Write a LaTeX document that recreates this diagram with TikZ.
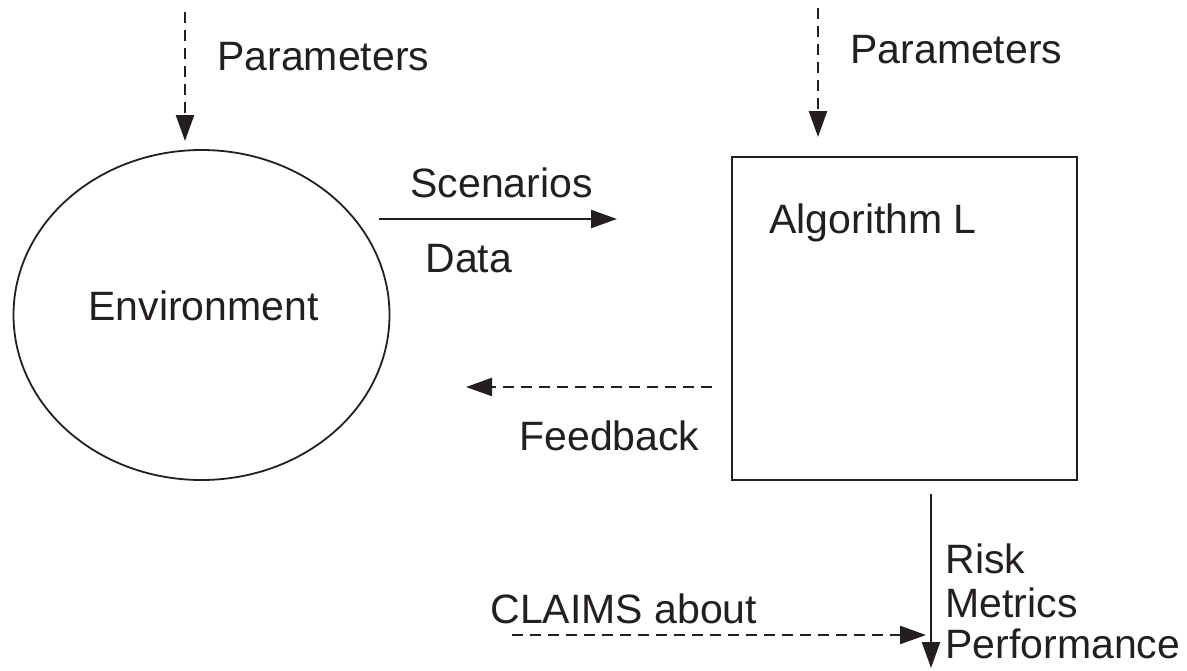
\documentclass[tikz,border=0pt]{standalone}
\usepackage{fontspec}
\setmainfont{Liberation Sans}
\usetikzlibrary{arrows.meta,shapes.geometric}
\definecolor{ink}{HTML}{231F20}
\begin{document}
\begin{tikzpicture}[x=0.5pt,y=-0.5pt,
  ink/.style={draw=ink,line width=1.2pt},
  txt/.style={anchor=base west,inner sep=0pt,font=\fontsize{20.5}{24}\selectfont,text=ink},
  solidarrow/.style={ink,-{Triangle[length=13pt,width=9pt]}},
  dasharrow/.style={ink,dash pattern=on 5.5pt off 3.5pt,-{Triangle[length=13pt,width=9pt]}}]
\useasboundingbox (0,0) rectangle (1187,670);
% shapes
\node[draw=ink,line width=0.9pt,ellipse,minimum width=188pt,minimum height=165pt,inner sep=0pt] (env) at (201.5,315) {};
\node[draw=ink,line width=1.3pt,rectangle,minimum width=172.5pt,minimum height=161.5pt,inner sep=0pt] (alg) at (904.5,318.5) {};
% texts
\node[txt] (envtxt) at (88,320) {Environment};
\node[txt] (algtxt) at (769,233) {Algorithm L};
\node[txt] (parL) at (217,70) {Parameters};
\node[txt] (parR) at (850,63) {Parameters};
\node[txt] (scen) at (410,197) {Scenarios};
\node[txt] (data) at (425,272) {Data};
\node[txt] (feed) at (519,450) {Feedback};
\node[txt] (claims) at (490,623) {CLAIMS about};
\node[txt] (risk) at (945,573) {Risk};
\node[txt] (metr) at (945,617) {Metrics};
\node[txt] (perf) at (945,658) {Performance};
% connector ends
\coordinate (pL0) at (185,12);
\coordinate (pL1) at (185,141);
\coordinate (pR0) at (818,8);
\coordinate (pR1) at (818,137);
\coordinate (s0) at (379,219);
\coordinate (s1) at (617,219);
\coordinate (f0) at (712,387);
\coordinate (f1) at (466,387);
\coordinate (o0) at (931,494);
\coordinate (o1) at (931,668);
\coordinate (c0) at (512,635);
\coordinate (c1) at (926,635);
% connectors
\draw[dasharrow] (pL0) -- (pL1);
\draw[dasharrow] (pR0) -- (pR1);
\draw[solidarrow] (s0) -- (s1);
\draw[dasharrow] (f0) -- (f1);
\draw[solidarrow] (o0) -- (o1);
\draw[dasharrow] (c0) -- (c1);
\end{tikzpicture}
\end{document}
